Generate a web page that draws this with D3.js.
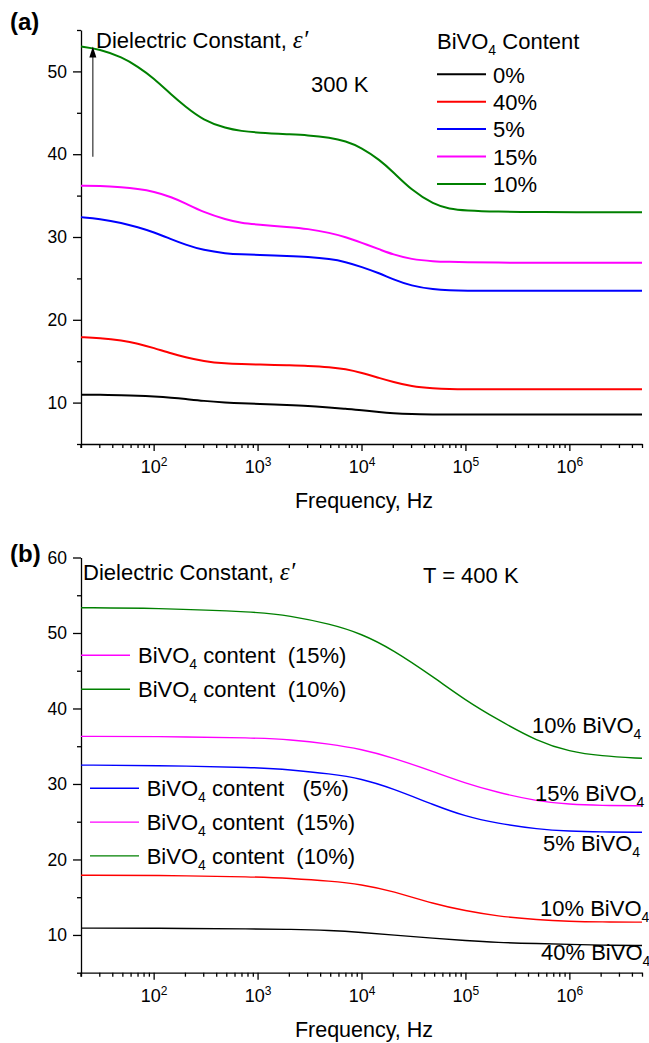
<!DOCTYPE html>
<html>
<head>
<meta charset="utf-8">
<script src="https://cdn.jsdelivr.net/npm/d3@7"></script>
<style>
  body { margin: 0; background: #fff; }
  svg { display: block; font-family: "Liberation Sans", Arial, sans-serif; }
  text { white-space: pre; }
</style>
</head>
<body>
<svg id="fig" width="649" height="1043"></svg>
<script>
// ---- Data ---------------------------------------------------------------
// Panel (a): dielectric constant vs frequency at 300 K
const freq300 = [20, 30, 50, 70, 100, 150, 200, 300, 500, 700, 1e3, 2e3, 3e3, 5e3, 7e3,
                 1e4, 1.5e4, 2e4, 3e4, 5e4, 7e4, 1e5, 2e5, 5e5, 1e6, 5e6];
const black300   = [10.95, 10.95, 10.9, 10.85, 10.75, 10.6, 10.45, 10.2, 10.0, 9.9, 9.85, 9.7, 9.6, 9.4, 9.25,
                    9.1, 8.85, 8.72, 8.62, 8.57, 8.55, 8.55, 8.55, 8.55, 8.55, 8.55];
const red300     = [17.9, 17.8, 17.5, 17.15, 16.6, 15.9, 15.5, 15.0, 14.7, 14.65, 14.6, 14.5, 14.45, 14.3, 14.05,
                    13.6, 12.95, 12.5, 11.95, 11.7, 11.62, 11.6, 11.6, 11.6, 11.6, 11.6];
const blue300    = [32.4, 32.2, 31.7, 31.2, 30.6, 29.7, 29.1, 28.4, 28.0, 27.9, 27.85, 27.7, 27.6, 27.35, 27.0,
                    26.4, 25.6, 24.9, 24.1, 23.65, 23.55, 23.5, 23.5, 23.5, 23.5, 23.5];
const magenta300 = [36.2, 36.2, 36.0, 35.8, 35.5, 34.8, 34.1, 33.0, 32.1, 31.7, 31.5, 31.2, 31.0, 30.5, 30.0,
                    29.3, 28.5, 27.9, 27.3, 27.05, 27.0, 26.95, 26.9, 26.9, 26.9, 26.9];
const green300   = [53.0, 52.7, 51.7, 50.6, 49.2, 47.1, 45.8, 44.1, 43.1, 42.8, 42.6, 42.4, 42.3, 42.0, 41.6,
                    40.8, 39.3, 37.9, 35.7, 33.9, 33.4, 33.2, 33.05, 33.0, 33.0, 33.0];

// Panel (b): dielectric constant vs frequency at 400 K
const freq400 = [20, 100, 1e3, 2e3, 5e3, 1e4, 2e4, 5e4, 1e5, 2e5, 5e5, 1e6, 2e6, 5e6];
const black400   = [10.9, 10.9, 10.8, 10.75, 10.6, 10.35, 10.0, 9.55, 9.25, 9.0, 8.85, 8.75, 8.65, 8.6];
const red400     = [17.9, 17.9, 17.7, 17.5, 17.15, 16.7, 15.8, 14.1, 13.2, 12.5, 12.0, 11.8, 11.72, 11.7];
const blue400    = [32.5, 32.45, 32.2, 31.9, 31.35, 30.7, 29.4, 27.2, 25.7, 24.8, 24.0, 23.75, 23.65, 23.6];
const magenta400 = [36.3, 36.3, 36.1, 35.9, 35.3, 34.6, 33.5, 31.6, 30.1, 28.9, 27.7, 27.3, 27.15, 27.1];
const green400   = [53.35, 53.3, 52.8, 52.3, 51.2, 49.9, 47.8, 44.1, 41.1, 38.6, 35.6, 34.3, 33.7, 33.4];

// Series order: black, red, blue, magenta, green
const seriesColors = ["#000000", "#ff0000", "#0000ff", "#ff00ff", "#008000"];
const legend300 = ["0%", "40%", "5%", "15%", "10%"];
const endLabels400 = ["40% ", "10% ", "5% ", "15% ", "10% "];     // each followed by BiVO4
const legend400Upper = ["(15%)", "(10%)"];                         // magenta, green
const legend400Lower = ["(5%)", "(15%)", "(10%)"];                 // blue, magenta, green

// Axis ticks
const freqDomain = [20, 5e6];
const majorFreq = [1e2, 1e3, 1e4, 1e5, 1e6];
const minorFreq = [];
for (let k = 1; k <= 6; k++) for (let m = 2; m <= 9; m++) {
  const v = m * Math.pow(10, k);
  if (v >= freqDomain[0] && v <= freqDomain[1]) minorFreq.push(v);
}
const majorEpsA = [10, 20, 30, 40, 50];
const minorEpsA = [5, 15, 25, 35, 45, 55];
const majorEpsB = [10, 20, 30, 40, 50, 60];
const minorEpsB = [5, 15, 25, 35, 45, 55];

// ---- Drawing ------------------------------------------------------------
const svg = d3.select("#fig");
const FS = 22;

function addBiVO4(text, before, after) {
  if (before) text.append("tspan").text(before);
  text.append("tspan").text("BiVO");
  text.append("tspan").attr("font-size", 14).attr("dy", 6).text("4");
  if (after) text.append("tspan").attr("dy", -6).text(after);
}

function drawPanel(cfg) {
  const x = d3.scaleLog().domain(freqDomain).range([81, 642]);
  const y = d3.scaleLinear().domain(cfg.yDomain).range(cfg.yRange);
  const g = svg.append("g");

  // x axis: major ticks with labels, minor ticks without
  const xMaj = g.append("g").attr("transform", `translate(0,${cfg.yRange[0]})`)
    .call(d3.axisBottom(x).tickValues(majorFreq).tickSize(7).tickSizeOuter(0).tickFormat(() => ""));
  g.append("g").attr("transform", `translate(0,${cfg.yRange[0]})`)
    .call(d3.axisBottom(x).tickValues(minorFreq).tickSize(4).tickSizeOuter(0).tickFormat(() => ""))
    .select(".domain").remove();
  xMaj.selectAll(".tick text").each(function (d) {
    const t = d3.select(this).attr("dy", null).attr("y", 29).attr("font-size", 18)
      .attr("font-family", '"Liberation Sans", Arial, sans-serif').attr("fill", "#000");
    t.text("10");
    t.append("tspan").attr("font-size", 12).attr("dy", -7).text(Math.round(Math.log10(d)));
  });
  // tick at the start of the frequency axis
  g.append("line").attr("x1", x(freqDomain[0])).attr("x2", x(freqDomain[0]))
    .attr("y1", cfg.yRange[0]).attr("y2", cfg.yRange[0] + 4).attr("stroke", "#000").attr("stroke-width", 1.3);

  // y axis
  const yMaj = g.append("g").attr("transform", "translate(81,0)")
    .call(d3.axisLeft(y).tickValues(cfg.majorY).tickSize(8).tickPadding(6).tickSizeOuter(0));
  yMaj.selectAll(".tick text").attr("font-size", 17.5)
    .attr("font-family", '"Liberation Sans", Arial, sans-serif').attr("fill", "#000");
  g.append("g").attr("transform", "translate(81,0)")
    .call(d3.axisLeft(y).tickValues(cfg.minorY).tickSize(4).tickSizeOuter(0).tickFormat(() => ""))
    .select(".domain").remove();
  g.selectAll(".domain, .tick line").attr("stroke", "#000").attr("stroke-width", 1.3);

  // curves
  const line = d3.line().x(d => x(d[0])).y(d => y(d[1])).curve(d3.curveBasis);
  cfg.series.forEach((vals, i) => {
    g.append("path")
      .datum(cfg.freq.map((f, j) => [f, vals[j]]))
      .attr("fill", "none").attr("stroke", seriesColors[i])
      .attr("stroke-width", cfg.lineWidth)
      .attr("d", line);
  });

  // axis title
  g.append("text").attr("x", 364).attr("y", cfg.xTitleY).attr("text-anchor", "middle")
    .attr("font-size", 21.5).text("Frequency, Hz");

  // panel letter
  g.append("text").attr("x", 10).attr("y", cfg.letterY).attr("font-size", 24)
    .attr("font-weight", "bold").text(cfg.letter);

  // y title inside the plot
  const yt = g.append("text").attr("x", cfg.yTitleX).attr("y", cfg.yTitleY).attr("font-size", FS);
  yt.append("tspan").text("Dielectric Constant, ");
  yt.append("tspan").attr("font-family", '"Liberation Serif", serif').attr("font-style", "italic")
    .attr("font-size", 25).text("ε′");

  return { g, x, y };
}

// Panel (a)
const A = drawPanel({
  letter: "(a)", letterY: 30,
  yDomain: [5, 55], yRange: [444, 30],
  majorY: majorEpsA, minorY: minorEpsA,
  freq: freq300, series: [black300, red300, blue300, magenta300, green300],
  lineWidth: 2, xTitleY: 508,
  yTitleX: 96, yTitleY: 48
});

// arrow pointing up the permittivity axis
const arrowF = 26, arrowFrom = 39.7, arrowTo = 53;
A.g.append("line").attr("x1", A.x(arrowF)).attr("x2", A.x(arrowF))
  .attr("y1", A.y(arrowFrom)).attr("y2", A.y(arrowTo) + 8)
  .attr("stroke", "#333").attr("stroke-width", 1.2);
A.g.append("path")
  .attr("d", `M${A.x(arrowF)},${A.y(arrowTo)} l-3.5,11 l7,0 z`)
  .attr("fill", "#000");

A.g.append("text").attr("x", 311).attr("y", 92).attr("font-size", FS).text("300 K");

// legend (a)
const lt = A.g.append("text").attr("x", 437).attr("y", 49).attr("font-size", FS);
addBiVO4(lt, null, " Content");
legend300.forEach((lab, i) => {
  const yy = 74.3 + i * 27.4;
  A.g.append("line").attr("x1", 437).attr("x2", 486).attr("y1", yy).attr("y2", yy)
    .attr("stroke", seriesColors[i]).attr("stroke-width", 2);
  A.g.append("text").attr("x", 493).attr("y", yy + 8.3).attr("font-size", FS).text(lab);
});

// Panel (b)
const B = drawPanel({
  letter: "(b)", letterY: 562,
  yDomain: [5, 60], yRange: [972.7, 557.5],
  majorY: majorEpsB, minorY: minorEpsB,
  freq: freq400, series: [black400, red400, blue400, magenta400, green400],
  lineWidth: 1.4, xTitleY: 1037,
  yTitleX: 83, yTitleY: 580
});

B.g.append("text").attr("x", 423).attr("y", 583).attr("font-size", FS).text("T = 400 K");

// upper legend (b): magenta, green
[3, 4].forEach((si, i) => {
  const yy = 655.3 + i * 34;
  B.g.append("line").attr("x1", 81).attr("x2", 130).attr("y1", yy).attr("y2", yy)
    .attr("stroke", seriesColors[si]).attr("stroke-width", 1.4);
  const t = B.g.append("text").attr("x", 138).attr("y", yy + 8).attr("font-size", FS);
  addBiVO4(t, null, " content  " + legend400Upper[i]);
});

// lower legend (b): blue, magenta, green
[2, 3, 4].forEach((si, i) => {
  const yy = 788.3 + i * 33.8;
  B.g.append("line").attr("x1", 90).attr("x2", 139).attr("y1", yy).attr("y2", yy)
    .attr("stroke", seriesColors[si]).attr("stroke-width", 1.4);
  const gap = legend400Lower[i].length === 4 ? "   " : "  ";
  const t = B.g.append("text").attr("x", 146.7).attr("y", yy + 8).attr("font-size", FS);
  addBiVO4(t, null, " content" + gap + legend400Lower[i]);
});

// curve-end labels (b), series order black, red, blue, magenta, green
const endPos = [[541, 960], [540, 916], [543, 850.7], [535, 801], [532, 732.7]];
endLabels400.forEach((lab, i) => {
  const t = B.g.append("text").attr("x", endPos[i][0]).attr("y", endPos[i][1]).attr("font-size", FS);
  addBiVO4(t, lab, null);
});
</script>
</body>
</html>
